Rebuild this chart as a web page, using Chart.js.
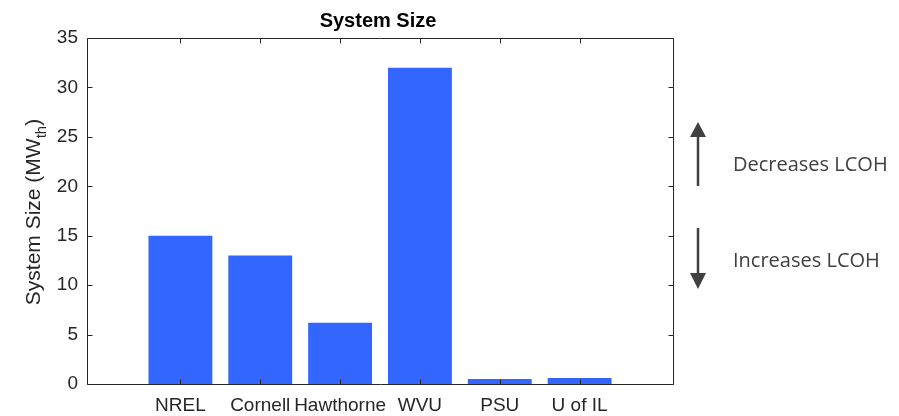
<!DOCTYPE html>
<html lang="en">
<head>
  <meta charset="UTF-8">
  <title>System Size</title>
  <style>
    html, body {
      margin: 0;
      padding: 0;
      background: #fff;
      overflow: hidden;
    }
    canvas { display: block; }
  </style>
</head>
<body>

<canvas id="sizeChart" width="899" height="416"></canvas>

<script src="https://cdn.jsdelivr.net/npm/chart.js"></script>
<script>

const categories = ['NREL', 'Cornell', 'Hawthorne', 'WVU', 'PSU', 'U of IL'];
const systemSize = [15, 13, 6.2, 32, 0.5, 0.6];
const yTicks = [0, 5, 10, 15, 20, 25, 30, 35];

const axisColor = '#262626';
const tickFont = { family: '"Liberation Sans", Arial, sans-serif', size: 19 };

// box around the axes with inward ticks on every side, title, y label and the LCOH arrows
const framePlugin = {
  id: 'frame',
  afterDatasetsDraw(chart) {
    const ctx = chart.ctx;
    const a = chart.chartArea;
    const xs = chart.scales.x;
    const ys = chart.scales.y;
    const L = Math.round(a.left) + 0.5, R = Math.round(a.right) + 0.5;
    const T = Math.round(a.top) + 0.5, B = Math.round(a.bottom) + 0.5;
    const tl = 5;

    ctx.save();
    ctx.strokeStyle = axisColor;
    ctx.lineWidth = 1;
    ctx.beginPath();
    ctx.rect(L, T, R - L, B - T);
    categories.forEach((c, i) => {
      const px = Math.round(xs.getPixelForValue(i + 1)) + 0.5;
      ctx.moveTo(px, B); ctx.lineTo(px, B - tl);
      ctx.moveTo(px, T); ctx.lineTo(px, T + tl);
    });
    yTicks.forEach(v => {
      const py = Math.round(ys.getPixelForValue(v)) + 0.5;
      ctx.moveTo(L, py); ctx.lineTo(L + tl, py);
      ctx.moveTo(R, py); ctx.lineTo(R - tl, py);
    });
    ctx.stroke();

    // title
    ctx.fillStyle = '#000';
    ctx.font = 'bold 20px "Liberation Sans", Arial, sans-serif';
    ctx.textAlign = 'center';
    ctx.textBaseline = 'middle';
    ctx.fillText('System Size', 378, 21);

    // y axis label with subscript
    ctx.translate(33, 212);
    ctx.rotate(-Math.PI / 2);
    ctx.fillStyle = axisColor;
    const mainFont = '21px "Liberation Sans", Arial, sans-serif';
    const subFont = '15px "Liberation Sans", Arial, sans-serif';
    ctx.font = mainFont;
    const p1 = 'System Size (MW', p3 = ')';
    const w1 = ctx.measureText(p1).width, w3 = ctx.measureText(p3).width;
    ctx.font = subFont;
    const w2 = ctx.measureText('th').width;
    let x = -(w1 + w2 + w3) / 2;
    ctx.textAlign = 'left';
    ctx.textBaseline = 'alphabetic';
    ctx.font = mainFont;
    ctx.fillText(p1, x, 7);
    ctx.font = subFont;
    ctx.fillText('th', x + w1, 13);
    ctx.font = mainFont;
    ctx.fillText(p3, x + w1 + w2, 7);
    ctx.restore();

    // arrows and notes on the right
    ctx.save();
    ctx.strokeStyle = '#404040';
    ctx.fillStyle = '#404040';
    ctx.lineWidth = 2.5;
    const ax = 698;
    ctx.beginPath();
    ctx.moveTo(ax, 186); ctx.lineTo(ax, 134);
    ctx.moveTo(ax, 228); ctx.lineTo(ax, 276);
    ctx.stroke();
    ctx.beginPath();
    ctx.moveTo(ax, 122); ctx.lineTo(ax - 8, 137); ctx.lineTo(ax + 8, 137); ctx.closePath();
    ctx.moveTo(ax, 289); ctx.lineTo(ax - 8, 273); ctx.lineTo(ax + 8, 273); ctx.closePath();
    ctx.fill();
    ctx.font = '20px "Open Sans", sans-serif';
    ctx.textAlign = 'left';
    ctx.textBaseline = 'middle';
    ctx.fillText('Decreases LCOH', 733, 165);
    ctx.fillText('Increases LCOH', 733, 261);
    ctx.restore();
  }
};

new Chart(document.getElementById('sizeChart').getContext('2d'), {
  type: 'bar',
  data: {
    datasets: [{
      data: categories.map((c, i) => ({ x: i + 1, y: systemSize[i] })),
      backgroundColor: '#3366ff',
      borderWidth: 0,
      barPercentage: 0.8,
      categoryPercentage: 1
    }]
  },
  options: {
    responsive: false,
    animation: false,
    layout: { padding: { top: 38, right: 226, left: 0, bottom: 0 } },
    plugins: {
      legend: { display: false },
      tooltip: { enabled: false },
      title: { display: false }
    },
    scales: {
      x: {
        type: 'linear',
        offset: false,
        min: -0.17,
        max: 7.17,
        grid: { display: false, drawTicks: false, offset: false },
        border: { display: false },
        afterBuildTicks: s => { s.ticks = categories.map((c, i) => ({ value: i + 1 })); },
        afterFit: s => { s.height = 32; },
        ticks: {
          autoSkip: false,
          maxRotation: 0,
          padding: 10,
          color: axisColor,
          font: tickFont,
          callback: v => categories[v - 1] || ''
        }
      },
      y: {
        min: 0,
        max: 35,
        grid: { display: false, drawTicks: false },
        border: { display: false },
        afterBuildTicks: s => { s.ticks = yTicks.map(v => ({ value: v })); },
        afterFit: s => { s.width = 87; },
        ticks: {
          padding: 9,
          color: axisColor,
          font: tickFont
        }
      }
    }
  },
  plugins: [framePlugin]
});

</script>
</body>
</html>
